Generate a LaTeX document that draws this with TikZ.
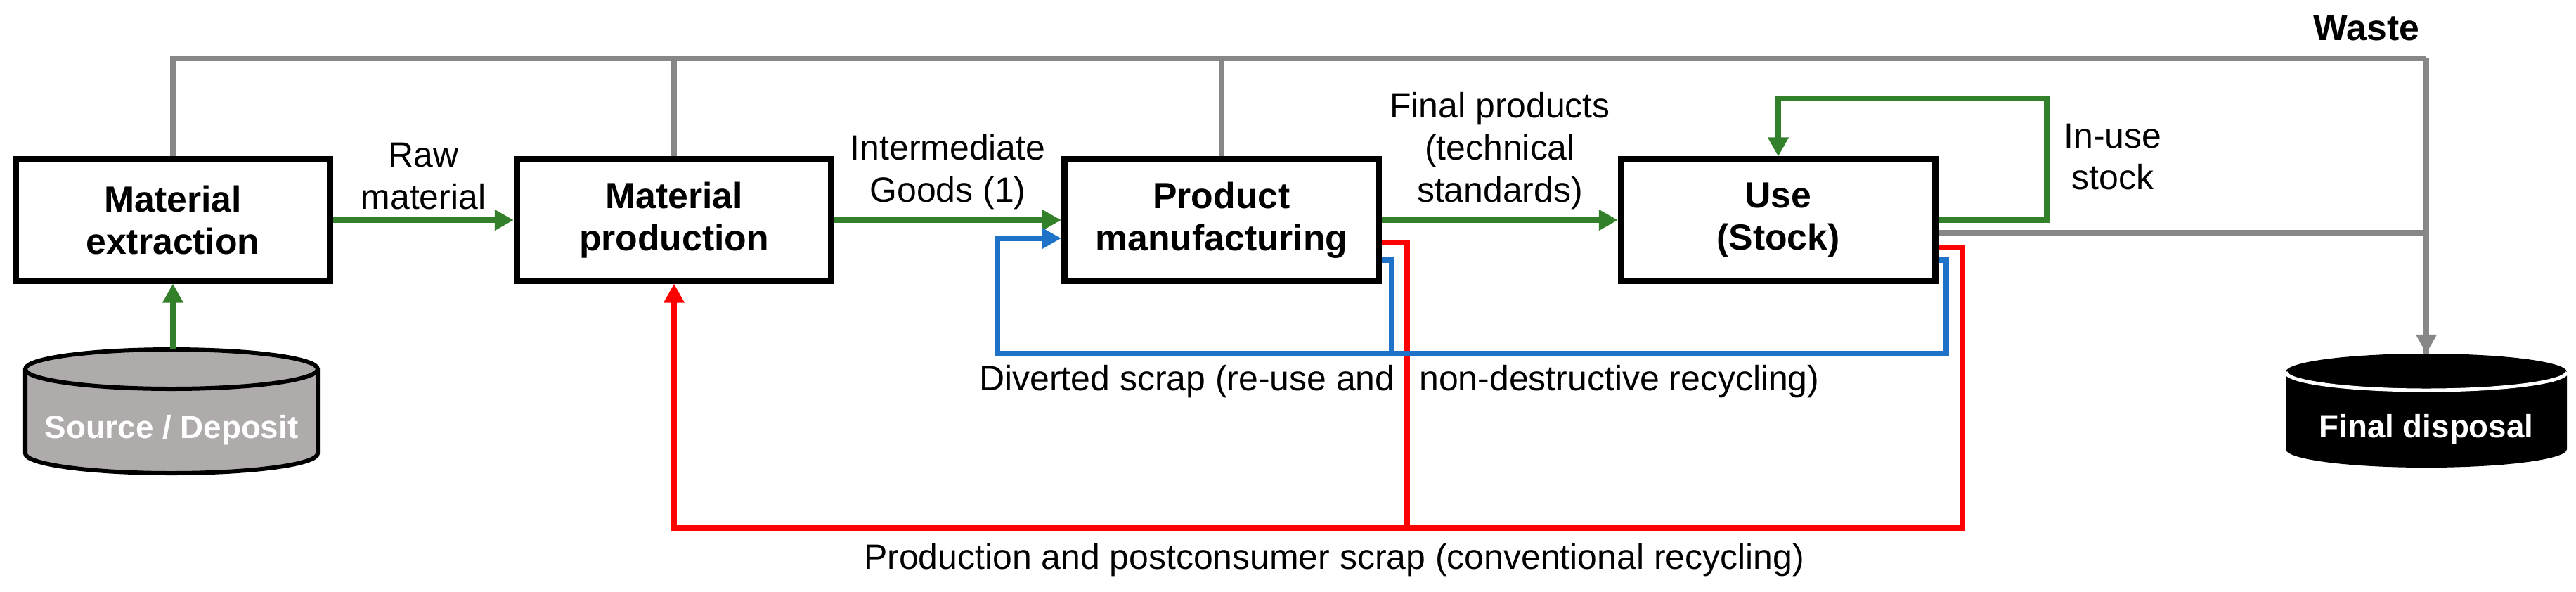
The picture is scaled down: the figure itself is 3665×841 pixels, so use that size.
\documentclass[tikz,border=0pt]{standalone}
\usepackage{fontspec}
\setmainfont{Liberation Sans}
\usetikzlibrary{arrows.meta, calc}

\definecolor{flowgreen}{RGB}{50,128,42}
\definecolor{scrapblue}{RGB}{30,115,200}
\definecolor{scrapred}{RGB}{255,0,0}
\definecolor{wastegray}{RGB}{135,135,135}
\definecolor{depositgray}{RGB}{175,171,171}

\newcommand{\diagfont}{\fontsize{14.2pt}{17pt}\selectfont}
\newcommand{\boxfont}{\fontsize{14.7pt}{17pt}\selectfont\bfseries}
\newcommand{\storefont}{\fontsize{13pt}{15pt}\selectfont\bfseries}

\tikzstyle{process} = [rectangle, minimum width=4.47cm, minimum height=1.72cm, text centered, align=center, draw=black, line width=0.09cm, fill=white, font=\boxfont]
\tikzstyle{store} = [rectangle, inner sep=0pt, outer sep=0pt, text height=0.77cm, text depth=0pt, font=\storefont, text=white]
\tikzstyle{deposit} = [draw=black, line width=0.06cm, fill=depositgray]
\tikzstyle{disposal} = [fill=black]
\tikzstyle{flowtext} = [align=center, font=\diagfont]
\tikzstyle{greenflow} = [line width=0.075cm, draw=flowgreen]
\tikzstyle{bluescrap} = [line width=0.08cm, draw=scrapblue]
\tikzstyle{redscrap} = [line width=0.085cm, draw=scrapred]
\tikzstyle{waste} = [line width=0.08cm, draw=wastegray]

\begin{document}
\begin{tikzpicture}[x=0.01cm, y=-0.01cm, >={Triangle[length=0.27cm, width=0.28cm]}, font=\diagfont]
\useasboundingbox (0,0) rectangle (3665,841);

% cylinders
\path [deposit] (36,525) -- (36,645) arc[start angle=180, end angle=0, x radius=208, y radius=28]
   -- (452,525) arc[start angle=0, end angle=-180, x radius=208, y radius=28] -- cycle;
\draw [deposit, fill=none] (36,525) arc[start angle=180, end angle=0, x radius=208, y radius=28];
\path [disposal] (3252,529) -- (3252,639) arc[start angle=180, end angle=0, x radius=200, y radius=26]
   -- (3652,529) arc[start angle=0, end angle=-180, x radius=200, y radius=26] -- cycle;
\draw [white, line width=0.05cm] (3252,529) arc[start angle=180, end angle=0, x radius=200, y radius=26];

\node (ext) [process] at (246,313) {Material\\extraction};
\node (mat) [process] at (959,313) {Material\\production};
\node (manu) [process] at (1738,313) {Product\\manufacturing};
\node (use) [process] at (2530,313) {Use\\(Stock)};

\node (src) [store, minimum width=4.16cm, minimum height=1.76cm] at (244,585) {Source / Deposit};
\node (disp) [store, minimum width=4cm, minimum height=1.62cm] at (3452,584) {Final disposal};

\coordinate (wtop) at (0,83);
\coordinate (wcorner) at (disp.north |- wtop);
\coordinate (loop) at (2912,140);
\coordinate (bcorner) at (1419,503);

% waste
\draw [waste] (ext.north) |- (wcorner);
\draw [waste] (mat.north) -- (mat.north |- wtop);
\draw [waste] (manu.north) -- (manu.north |- wtop);
\draw [waste] ($(use.east)+(0,18)$) -| (disp.north);
\draw [waste, ->] (wcorner) -- (disp.north);

% material flows
\draw [greenflow, ->] (src.north -| ext.south) -- (ext.south);
\draw [greenflow, ->] (ext) -- node[above, flowtext] {Raw\\material} (mat);
\draw [greenflow, ->] (mat) -- node[above, flowtext] {Intermediate\\Goods (1)} (manu);
\draw [greenflow, ->] (manu) -- node[above, flowtext] {Final products\\(technical\\standards)} (use);
\draw [greenflow, ->] (use.east) -| (loop) -| (use.north);

% conventional recycling
\draw [redscrap] ($(manu.east)+(0,32)$) -- ++(36,0) -- ++(0,405);
\draw [redscrap, ->] ($(use.east)+(0,39)$) -- ++(34,0) |- ($(mat.south)+(0,347)$) -- (mat.south);

% diverted scrap
\draw [bluescrap] ($(manu.east)+(0,57)$) -- ++(14,0) -- ++(0,133);
\draw [bluescrap, ->] ($(use.east)+(0,57)$) -- ++(11,0) |- (bcorner) |- ($(manu.west)+(0,26)$);

\node (waste) [font=\boxfont] at (3367,40) {Waste};
\node (inuse) [flowtext] at (3006,223) {In-use\\stock};
\node (divert) at (1991,543) {Diverted scrap (re-use and\hspace{6pt} non-destructive recycling)};
\node (convrec) at (1898,797) {Production and postconsumer scrap (conventional recycling)};

\end{tikzpicture}
\end{document}
